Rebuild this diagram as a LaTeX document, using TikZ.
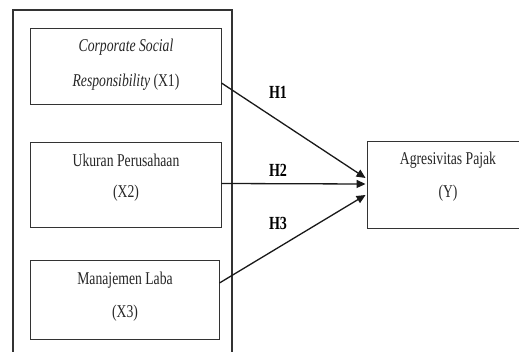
\documentclass[tikz,border=0pt]{standalone}
\usepackage{fontspec}
\setmainfont[FakeStretch=0.76]{Liberation Serif}
\usetikzlibrary{arrows.meta,calc}
\begin{document}
\begin{tikzpicture}[x=1pt,y=-1pt,
  box/.style={draw=black!80,line width=0.9pt,inner sep=0pt},
  txt/.style={font=\fontsize{18}{20}\selectfont,text=black!85,inner sep=0pt,anchor=center},
  hyp/.style={font=\fontsize{18.5}{20}\selectfont\bfseries,inner sep=0pt,anchor=center},
  arr/.style={line width=1.3pt,draw=black!90,-{Triangle[length=9pt,width=8pt]}}]
\useasboundingbox (0,0) rectangle (519,352);
\fill[white] (0,0) rectangle (519,352);
\clip (0,0) rectangle (519,352);
% outer frame (bottom cut off)
\draw[line width=1.1pt,draw=black!80] (13,360) -- (13,10) -- (232,10) -- (232,360);
% boxes
\node[box,minimum width=191pt,minimum height=76pt] (b1) at (125.5,66) {};
\node[box,minimum width=191pt,minimum height=85pt] (b2) at (125.5,184.5) {};
\node[box,minimum width=189pt,minimum height=79pt] (b3) at (124.5,299.5) {};
\node[box,minimum width=170pt,minimum height=87pt] (y) at (452,184.5) {};
% texts
\node[txt] (t1a) at (126,47) {\itshape Corporate Social};
\node[txt] (t1b) at (126,82) {\itshape Responsibility\/\upshape{} (X1)};
\node[txt] (t2a) at (126,160) {Ukuran Perusahaan};
\node[txt] (t2b) at (126,193) {(X2)};
\node[txt] (t3a) at (125,280) {Manajemen Laba};
\node[txt] (t3b) at (125,313) {(X3)};
\node[txt] (tya) at (448,160) {Agresivitas Pajak};
\node[txt] (tyb) at (448,193) {(Y)};
% arrows
\coordinate (s1) at ($(b1.east)+(0,17)$);
\coordinate (s2) at ($(b2.east)+(0,-1)$);
\coordinate (s3) at ($(b3.east)+(0,-16.5)$);
\draw[arr] (s1) -- ($(y.west)+(-1,-6.5)$);
\draw[arr] (s2) -- ($(y.west)+(-1,-0.5)$);
\draw[arr] (s3) -- ($(y.west)+(-1,10.5)$);
% labels
\node[hyp] (h1) at (278,92) {H1};
\node[hyp] (h2) at (278,170) {H2};
\node[hyp] (h3) at (278,223) {H3};
\end{tikzpicture}
\end{document}
